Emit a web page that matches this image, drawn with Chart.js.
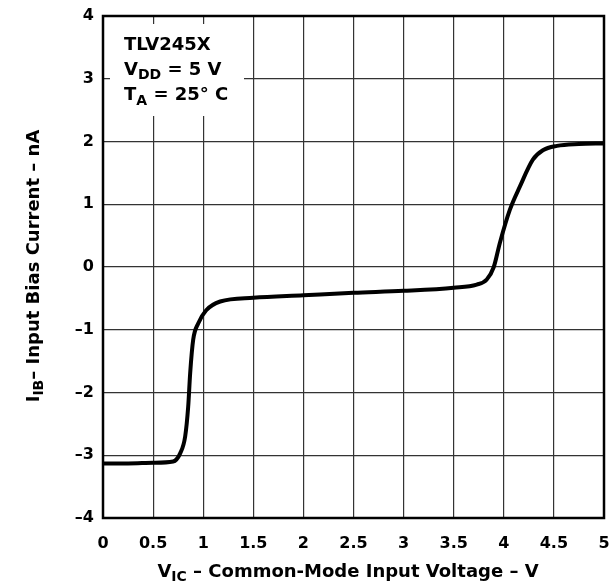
<!DOCTYPE html>
<html>
<head>
<meta charset="utf-8">
<script src="https://cdn.jsdelivr.net/npm/chart.js@4"></script>
<style>
  html, body { margin: 0; padding: 0; background: #fff; overflow: hidden; }
  #wrap { width: 613px; height: 587px; }
  canvas { display: block; }
</style>
</head>
<body>
<div id="wrap"><canvas id="biasChart"></canvas></div>
<script>
// Input bias current vs common-mode input voltage
const vic = [0, 0.25, 0.5, 0.7, 0.77, 0.82, 0.85, 0.87, 0.9, 0.95, 1.03, 1.17, 1.5, 2.0, 2.5, 3.0, 3.5, 3.73, 3.83, 3.9, 3.96, 4.06, 4.16, 4.29, 4.39, 4.53, 4.75, 5.0];
const iib = [-3.13, -3.13, -3.12, -3.1, -2.97, -2.7, -2.23, -1.69, -1.16, -0.9, -0.69, -0.55, -0.49, -0.45, -0.41, -0.38, -0.33, -0.28, -0.2, 0.0, 0.38, 0.91, 1.28, 1.71, 1.86, 1.93, 1.96, 1.97];
const xTicks = [0, 0.5, 1, 1.5, 2, 2.5, 3, 3.5, 4, 4.5, 5];
const yTicks = [-4, -3, -2, -1, 0, 1, 2, 3, 4];

const FONT = "'DejaVu Sans', sans-serif";

// draw a run of text pieces, some of them subscript
function drawRuns(ctx, runs, x, y) {
  runs.forEach((r) => {
    ctx.font = "bold " + r.size + "px " + FONT;
    ctx.fillText(r.text, x, y + (r.dy || 0));
    x += ctx.measureText(r.text).width;
  });
}
function runsWidth(ctx, runs) {
  let w = 0;
  runs.forEach((r) => {
    ctx.font = "bold " + r.size + "px " + FONT;
    w += ctx.measureText(r.text).width;
  });
  return w;
}

const extras = {
  id: "extras",
  beforeDatasetsDraw(chart) {
    const ctx = chart.ctx;
    // white box behind the note, covers the grid (short stubs stay visible)
    ctx.save();
    ctx.fillStyle = "#fff";
    ctx.fillRect(110, 24, 134, 92);
    ctx.restore();
  },
  afterDatasetsDraw(chart) {
    const ctx = chart.ctx;
    const a = chart.chartArea;
    ctx.save();
    ctx.strokeStyle = "#000";
    ctx.lineWidth = 2.5;
    ctx.strokeRect(a.left, a.top, a.right - a.left, a.bottom - a.top);

    ctx.fillStyle = "#000";
    ctx.textBaseline = "alphabetic";
    ctx.textAlign = "left";
    drawRuns(ctx, [{ text: "TLV245X", size: 18 }], 124, 50);
    drawRuns(ctx, [
      { text: "V", size: 18 },
      { text: "DD", size: 14, dy: 4 },
      { text: " = 5 V", size: 18 },
    ], 124, 75);
    drawRuns(ctx, [
      { text: "T", size: 18 },
      { text: "A", size: 14, dy: 5 },
      { text: " = 25\u00b0 C", size: 18 },
    ], 124, 100);

    // x axis title
    const xt = [
      { text: "V", size: 18 },
      { text: "IC", size: 14, dy: 4 },
      { text: " \u2013 Common-Mode Input Voltage \u2013 V", size: 18 },
    ];
    drawRuns(ctx, xt, 348 - runsWidth(ctx, xt) / 2, 577);

    // y axis title
    const yt = [
      { text: "I", size: 18 },
      { text: "IB", size: 14, dy: 4 },
      { text: "\u2013 Input Bias Current \u2013 nA", size: 18 },
    ];
    ctx.translate(39, 266);
    ctx.rotate(-Math.PI / 2);
    drawRuns(ctx, yt, -runsWidth(ctx, yt) / 2, 0);
    ctx.restore();
  },
};

const points = vic.map((v, i) => ({ x: v, y: iib[i] }));

const biasCtx = document.getElementById("biasChart").getContext("2d");
const biasChart = new Chart(biasCtx, {
  type: "line",
  data: {
    datasets: [
      {
        data: points,
        borderColor: "#000",
        borderWidth: 4,
        pointRadius: 0,
        cubicInterpolationMode: "monotone",
        fill: false,
      },
    ],
  },
  options: {
    responsive: true,
    maintainAspectRatio: false,
    animation: false,
    layout: { padding: { top: 16, right: 9, left: 0, bottom: 0 } },
    plugins: {
      legend: { display: false },
      tooltip: { enabled: false },
    },
    scales: {
      x: {
        type: "linear",
        min: 0,
        max: 5,
        afterBuildTicks: (s) => { s.ticks = xTicks.map((v) => ({ value: v })); },
        afterFit: (s) => {
          s.height = 69;
          s.paddingLeft = 0;
          s.paddingRight = 0;
        },
        ticks: {
          padding: 16,
          color: "#000",
          font: { family: FONT, size: 16, weight: "bold" },
          maxRotation: 0,
          callback: (v) => String(v),
        },
        grid: { color: "#333", lineWidth: 1.2, drawTicks: false },
        border: { display: false },
      },
      y: {
        min: -4,
        max: 4,
        afterBuildTicks: (s) => { s.ticks = yTicks.map((v) => ({ value: v })); },
        afterFit: (s) => {
          s.width = 103;
          s.paddingTop = 0;
          s.paddingBottom = 0;
        },
        ticks: {
          padding: 9,
          color: "#000",
          font: { family: FONT, size: 16, weight: "bold" },
          callback: (v) => (v < 0 ? "\u2013" + Math.abs(v) : String(v)),
        },
        grid: { color: "#333", lineWidth: 1.2, drawTicks: false },
        border: { display: false },
      },
    },
  },
  plugins: [extras],
});
</script>
</body>
</html>
